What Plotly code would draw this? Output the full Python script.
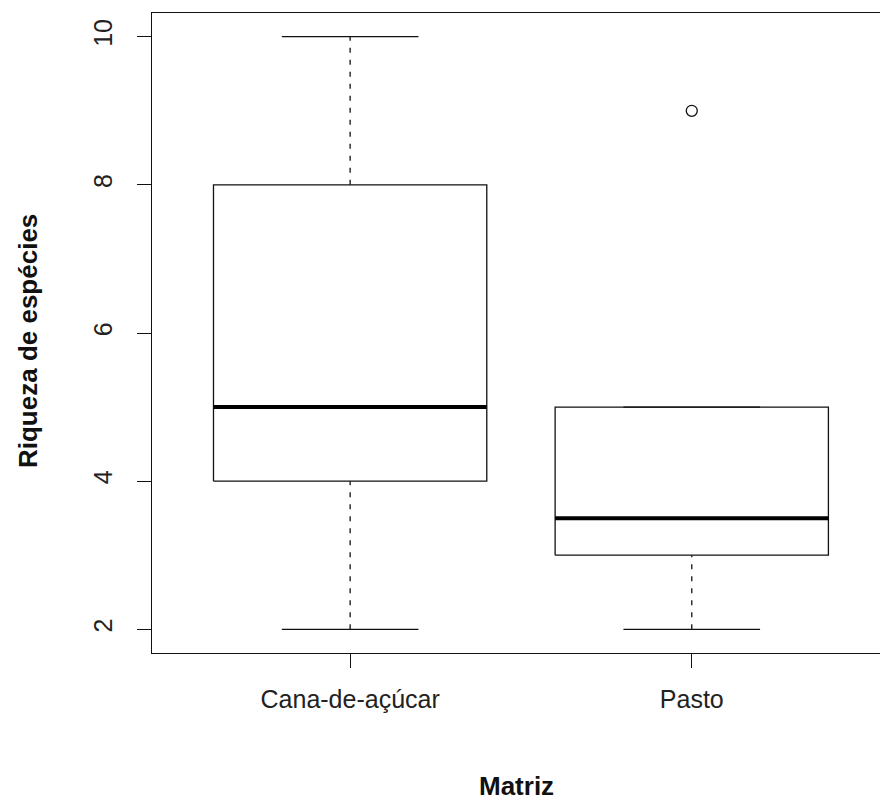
import plotly.graph_objects as go

# Summary statistics per matrix type (Tukey box plot)
categories = ["Cana-de-açúcar", "Pasto"]
whisker_low = [2, 2]
q1 = [4, 3]
median = [5, 3.5]
q3 = [8, 5]
whisker_high = [10, 5]
outlier_cat = [2]
outlier_val = [9]
y_ticks = [2, 4, 6, 8, 10]

BOX_HALF = 0.4
CAP_HALF = 0.2
INK = "#111111"
FONT = "Liberation Sans, Arial, sans-serif"

fig = go.Figure()

for i, name in enumerate(categories):
    x = i + 1
    # dashed whiskers
    fig.add_trace(go.Scatter(
        x=[x, x, None, x, x],
        y=[whisker_low[i], q1[i], None, q3[i], whisker_high[i]],
        mode="lines", line=dict(color=INK, width=1.3, dash="5px,7px"),
        hoverinfo="skip", showlegend=False))
    # staples
    fig.add_trace(go.Scatter(
        x=[x - CAP_HALF, x + CAP_HALF, None, x - CAP_HALF, x + CAP_HALF],
        y=[whisker_low[i], whisker_low[i], None, whisker_high[i], whisker_high[i]],
        mode="lines", line=dict(color=INK, width=1.3),
        hoverinfo="skip", showlegend=False))
    # box outline
    fig.add_trace(go.Scatter(
        x=[x - BOX_HALF, x + BOX_HALF, x + BOX_HALF, x - BOX_HALF, x - BOX_HALF],
        y=[q1[i], q1[i], q3[i], q3[i], q1[i]],
        mode="lines", line=dict(color=INK, width=1.3),
        hoverinfo="skip", showlegend=False))
    # median
    fig.add_trace(go.Scatter(
        x=[x - BOX_HALF, x + BOX_HALF],
        y=[median[i], median[i]],
        mode="lines", line=dict(color="#000000", width=4),
        hoverinfo="skip", showlegend=False))

# outliers
fig.add_trace(go.Scatter(
    x=outlier_cat, y=outlier_val, mode="markers",
    marker=dict(symbol="circle-open", size=11, color=INK, line=dict(width=1.3)),
    hoverinfo="skip", showlegend=False))

fig.update_layout(
    width=880, height=805,
    margin=dict(l=152, r=0, t=13, b=152),
    plot_bgcolor="white", paper_bgcolor="white",
    font=dict(family=FONT, size=25, color="#222222"),
    xaxis=dict(
        range=[0.42, 2.551], tickmode="array",
        tickvals=[1, 2], ticktext=categories,
        showgrid=False, zeroline=False,
        showline=True, linecolor=INK, linewidth=1.3, mirror=True,
        ticks="outside", ticklen=14, tickwidth=1.3, tickcolor=INK,
        ticklabelstandoff=10,
    ),
    yaxis=dict(
        range=[1.68, 10.32], tickmode="array",
        tickvals=y_ticks, ticktext=[str(v) for v in y_ticks],
        tickangle=-90,
        showgrid=False, zeroline=False,
        showline=True, linecolor=INK, linewidth=1.3,
        ticks="outside", ticklen=14, tickwidth=1.3, tickcolor=INK,
        ticklabelstandoff=15,
    ),
    annotations=[
        dict(text="<b>Matriz</b>", xref="paper", yref="paper",
             x=0.5, y=-0.2078, xanchor="center", yanchor="middle",
             showarrow=False, font=dict(family=FONT, size=26, color="#111111")),
        dict(text="<b>Riqueza de espécies</b>", xref="paper", yref="paper",
             x=-0.1703, y=0.4875, xanchor="center", yanchor="middle",
             textangle=-90, showarrow=False,
             font=dict(family=FONT, size=26, color="#111111")),
    ],
)

fig.write_html("out.html")
